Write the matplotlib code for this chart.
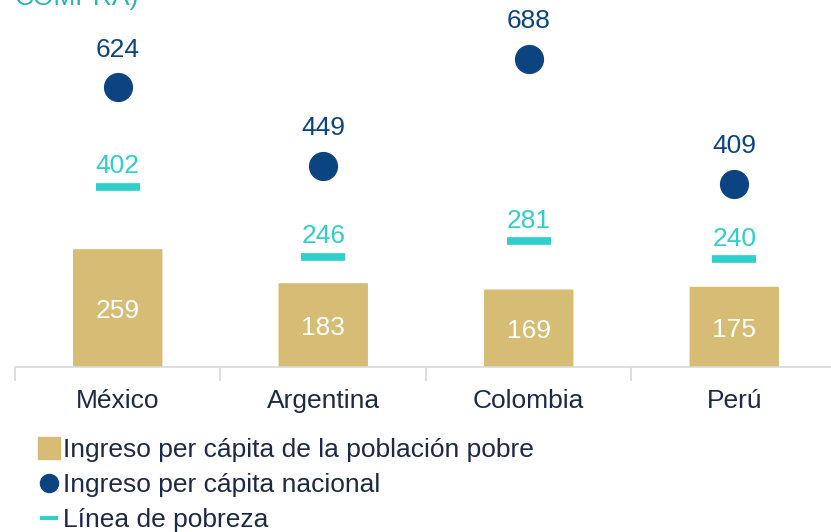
import matplotlib.pyplot as plt
from matplotlib.lines import Line2D
from matplotlib.patches import FancyBboxPatch

plt.rcParams['font.family'] = ['Liberation Sans', 'DejaVu Sans']

paises = ['México', 'Argentina', 'Colombia', 'Perú']
ingreso_pobre = [259, 183, 169, 175]
ingreso_nacional = [624, 449, 688, 409]
linea_pobreza = [402, 246, 281, 240]

GOLD = '#D6BC74'
NAVY = '#0C4482'
TEAL = '#2FCFCB'
TEXT = '#1B2A47'
FS = 19

fig = plt.figure(figsize=(8.31, 5.32), dpi=100)
ax = fig.add_axes([15 / 831, 165 / 532, 822 / 831, 367 / 532])
ax.set_xlim(-0.5, 3.5)
ax.set_ylim(0, 819)

x = range(len(paises))
bw = 0.435
for i, v in zip(x, ingreso_pobre):
    ax.add_patch(FancyBboxPatch((i - bw / 2, 0), bw, v + 4,
                                boxstyle='round,pad=0,rounding_size=0.02',
                                mutation_aspect=20, fc=GOLD, ec='none'))
    ax.text(i, v / 2 - 4, str(v), ha='center', va='center', color='white', fontsize=FS)

ax.plot(x, linea_pobreza, ls='none', marker='_', markersize=31, mew=5.5, color=TEAL)
for i, v in zip(x, linea_pobreza):
    ax.text(i, v + 19, str(v), ha='center', va='bottom', color=TEAL, fontsize=FS)

ax.plot(x, ingreso_nacional, ls='none', marker='o', markersize=20, color=NAVY)
for i, v in zip(x, ingreso_nacional):
    ax.text(i, v + 57, str(v), ha='center', va='bottom', color=NAVY, fontsize=FS)

for s in ['top', 'right', 'left']:
    ax.spines[s].set_visible(False)
ax.spines['bottom'].set_color('#D9D9D9')
ax.spines['bottom'].set_linewidth(1.2)
ax.set_yticks([])
ax.set_xticks([-0.5, 0.5, 1.5, 2.5, 3.5], minor=True)
ax.set_xticks(list(x))
ax.set_xticklabels(paises, fontsize=FS, color=TEXT)
ax.tick_params(axis='x', which='major', length=0, pad=16)
ax.tick_params(axis='x', which='minor', length=10, color='#D9D9D9', width=1.2)

# cropped subtitle fragment at the top edge
fig.text(15 / 831, 1 - 5 / 532, 'COMPRA)', color='#22B8B5', fontsize=FS,
         va='baseline', ha='left')

handles = [
    Line2D([], [], ls='none', marker='s', markersize=16, color=GOLD),
    Line2D([], [], ls='none', marker='o', markersize=13, color=NAVY),
    Line2D([], [], ls='none', marker='_', markersize=13, mew=3, color=TEAL),
]
labels = ['Ingreso per cápita de la población pobre', 'Ingreso per cápita nacional',
          'Línea de pobreza']
leg = fig.legend(handles, labels, loc='upper left', bbox_to_anchor=(38 / 831, 1 - 438 / 532),
                 frameon=False, fontsize=FS, handlelength=0.8, handletextpad=0.15,
                 labelspacing=0.42, borderpad=0, borderaxespad=0)
for t in leg.get_texts():
    t.set_color(TEXT)

fig.savefig('out.png', dpi=100)
